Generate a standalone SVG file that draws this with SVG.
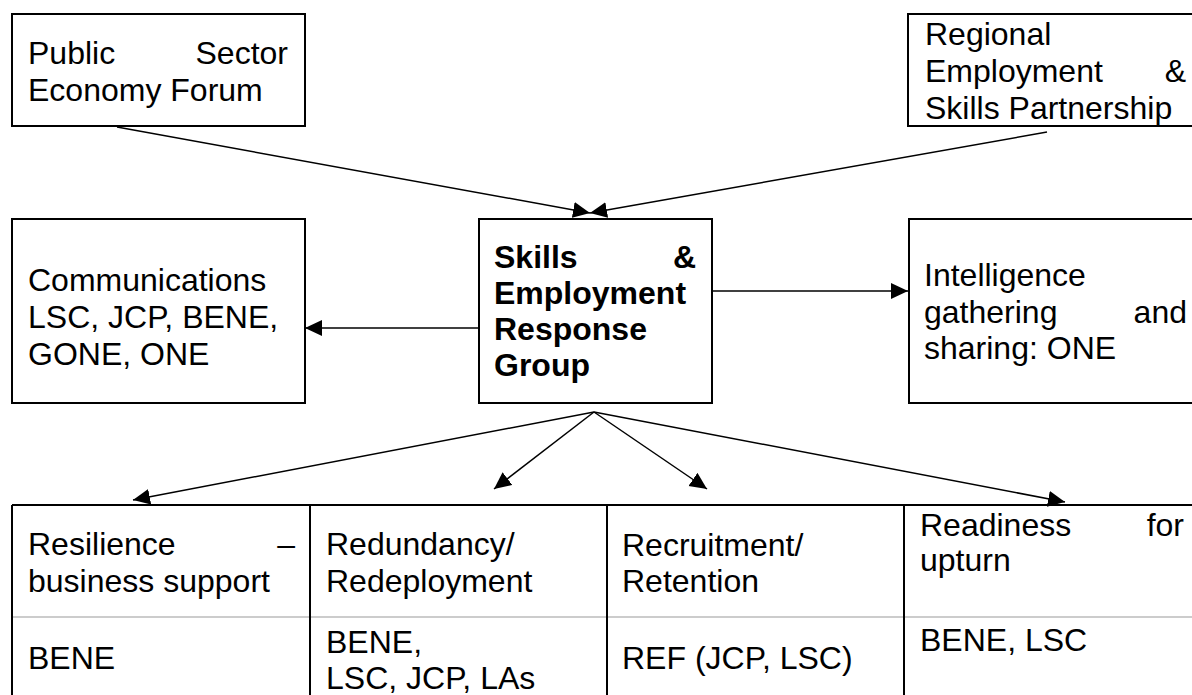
<svg xmlns="http://www.w3.org/2000/svg" width="1192" height="695" viewBox="0 0 1192 695">
<style>
  .box{fill:#fff;stroke:#000;stroke-width:2}
  .t{font-family:"Liberation Sans",Arial,sans-serif;font-size:32px;fill:#000}
  .b{font-weight:bold}
  .e{text-anchor:end}
  .c{fill:none;stroke:#000;stroke-width:1.5}
  .grid{stroke:#000;stroke-width:2;fill:none}
  .mid{stroke:#999;stroke-width:1;fill:none}
</style>
<defs>
  <marker id="ah" markerUnits="userSpaceOnUse" markerWidth="18" markerHeight="18" refX="17" refY="8" orient="auto" viewBox="0 0 18 18">
    <path d="M0,0 L17,8 L0,16 z" fill="#000"/>
  </marker>
</defs>
<rect width="1192" height="695" fill="#fff"/>

<g id="connectors">
  <line class="c" x1="117" y1="127" x2="590" y2="213" marker-end="url(#ah)"/>
  <line class="c" x1="1047" y1="132" x2="590" y2="213" marker-end="url(#ah)"/>
  <line class="c" x1="479" y1="328" x2="305" y2="328" marker-end="url(#ah)"/>
  <line class="c" x1="712" y1="291" x2="908" y2="291" marker-end="url(#ah)"/>
  <line class="c" x1="594" y1="412" x2="133" y2="500" marker-end="url(#ah)"/>
  <line class="c" x1="594" y1="412" x2="494" y2="489" marker-end="url(#ah)"/>
  <line class="c" x1="594" y1="412" x2="707" y2="489" marker-end="url(#ah)"/>
  <line class="c" x1="594" y1="412" x2="1065" y2="502" marker-end="url(#ah)"/>
</g>

<g id="psef">
  <rect class="box" x="12" y="14" width="293" height="112"/>
  <text class="t" x="28" y="64">Public</text>
  <text class="t e" x="288" y="64">Sector</text>
  <text class="t" x="28" y="101">Economy Forum</text>
</g>

<g id="resp">
  <rect class="box" x="908" y="14" width="300" height="112"/>
  <text class="t" x="925" y="45">Regional</text>
  <text class="t" x="925" y="82">Employment</text>
  <text class="t e" x="1186" y="82">&amp;</text>
  <text class="t" x="925" y="119">Skills Partnership</text>
</g>

<g id="communications">
  <rect class="box" x="12" y="219" width="293" height="184"/>
  <text class="t" x="28" y="291">Communications</text>
  <text class="t" x="28" y="328">LSC, JCP, BENE,</text>
  <text class="t" x="28" y="365">GONE, ONE</text>
</g>

<g id="serg">
  <rect class="box" x="479" y="219" width="233" height="184"/>
  <text class="t b" x="494" y="268">Skills</text>
  <text class="t b e" x="696" y="268">&amp;</text>
  <text class="t b" x="494" y="304">Employment</text>
  <text class="t b" x="494" y="340">Response</text>
  <text class="t b" x="494" y="376">Group</text>
</g>

<g id="intelligence">
  <rect class="box" x="909" y="219" width="300" height="184"/>
  <text class="t" x="924" y="286">Intelligence</text>
  <text class="t" x="924" y="323">gathering</text>
  <text class="t e" x="1187" y="323">and</text>
  <text class="t" x="924" y="359">sharing: ONE</text>
</g>

<g id="table">
  <line class="mid" x1="12" y1="617" x2="1192" y2="617"/>
  <path class="grid" d="M12,505 H1200 M12,505 V700 M310,505 V700 M607,505 V700 M904,505 V700"/>
</g>

<g id="resilience">
  <text class="t" x="28" y="555">Resilience</text>
  <text class="t e" x="295" y="555">–</text>
  <text class="t" x="28" y="592">business support</text>
  <text class="t" x="28" y="669">BENE</text>
</g>

<g id="redundancy">
  <text class="t" x="326" y="555">Redundancy/</text>
  <text class="t" x="326" y="592">Redeployment</text>
  <text class="t" x="326" y="653">BENE,</text>
  <text class="t" x="326" y="689">LSC, JCP, LAs</text>
</g>

<g id="recruitment">
  <text class="t" x="622" y="556">Recruitment/</text>
  <text class="t" x="622" y="592">Retention</text>
  <text class="t" x="622" y="669">REF (JCP, LSC)</text>
</g>

<g id="readiness">
  <text class="t" x="920" y="536">Readiness</text>
  <text class="t e" x="1184" y="536">for</text>
  <text class="t" x="920" y="571">upturn</text>
  <text class="t" x="920" y="651">BENE, LSC</text>
</g>
</svg>
